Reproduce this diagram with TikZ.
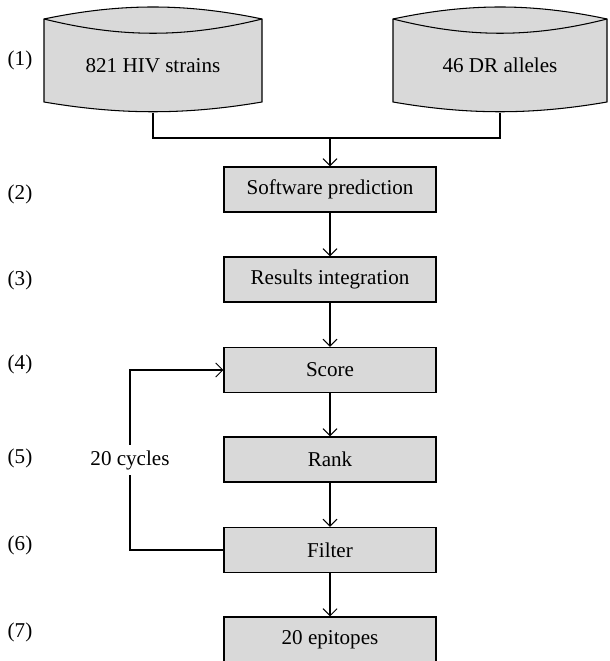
\documentclass[tikz,border=0pt]{standalone}
\usepackage{fontspec}
\setmainfont{Liberation Serif}
\usepackage{xcolor}
\usepackage{tikz}
\usetikzlibrary{shapes,arrows.meta,positioning}

\definecolor{boxgray}{RGB}{217,217,217}

\begin{document}
\begin{tikzpicture}[
    x=0.02cm,
    y=-0.02cm,
    font=\fontsize{12}{14}\selectfont,
    line width=0.6pt,
    process/.style={
        rectangle,
        draw=black,
        fill=boxgray,
        minimum width=4.24cm,
        minimum height=0.9cm,
        text centered
    },
    store/.style={
        draw=black,
        fill=boxgray
    },
    storetext/.style={
        rectangle,
        minimum height=1.86cm,
        text centered
    },
    stage/.style={
        text centered
    },
    arrow/.style={
        ->,
        >={Straight Barb[length=4pt,width=8pt]}
    }
]
\useasboundingbox (0,0) rectangle (609,661);

% Bases de datos (cilindros)
\foreach \l/\r in {44/262, 393/607} {
    \draw[store] (\l,19) .. controls ({\l+0.35*(\r-\l)},3) and ({\l+0.65*(\r-\l)},3) .. (\r,19)
        -- (\r,102) .. controls ({\l+0.65*(\r-\l)},115) and ({\l+0.35*(\r-\l)},115) .. (\l,102) -- cycle;
    \draw (\l,19) .. controls ({\l+0.35*(\r-\l)},38) and ({\l+0.65*(\r-\l)},38) .. (\r,19);
}
\node[storetext, minimum width=4.36cm] (strains) at (153,65.5) {821 HIV strains};
\node[storetext, minimum width=4.28cm] (alleles) at (500,65.5) {46 DR alleles};

% Etapas
\foreach \n/\y in {1/60, 2/194, 3/280, 4/364, 5/458, 6/545, 7/632}
    \node[stage] (stage\n) at (20,\y) {(\n)};

% Pasos del proceso
\node[process] (software) at (330,189.5) {Software prediction};
\node[process] (results) at (330,279.5) {Results integration};
\node[process] (score) at (330,370) {Score};
\node[process] (rank) at (330,459.5) {Rank};
\node[process] (filter) at (330,550) {Filter};
\node[process] (epitopes) at (330,639.5) {20 epitopes};

% Union de las entradas
\coordinate (join) at (330,138);
\draw (strains.south) |- (join);
\draw (alleles.south) |- (join);
\draw[arrow] (join) -- (software);

% Flujo principal
\draw[arrow] (software) -- (results);
\draw[arrow] (results) -- (score);
\draw[arrow] (score) -- (rank);
\draw[arrow] (rank) -- (filter);
\draw[arrow] (filter) -- (epitopes);

% Ciclo
\coordinate (loop) at (130,550);
\draw[arrow] (filter) -- (loop) |- node[pos=0.25, fill=white, inner xsep=1pt] {20 cycles} (score);

\end{tikzpicture}
\end{document}
